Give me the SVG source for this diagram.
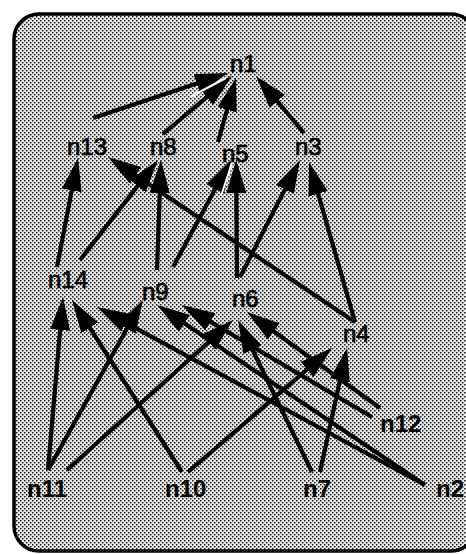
<svg xmlns="http://www.w3.org/2000/svg" width="466" height="554" viewBox="0 0 466 554">
<defs>
<pattern id="dither" width="4" height="4" patternUnits="userSpaceOnUse">
<rect width="4" height="4" fill="#e8e8e8"/>
<rect x="0" y="0" width="1.5" height="1.5" fill="#202020"/>
<rect x="2" y="2" width="1.5" height="1.5" fill="#202020"/>
</pattern>
<marker id="ah" markerUnits="userSpaceOnUse" markerWidth="36" markerHeight="22" refX="23" refY="10" orient="auto">
<path d="M0,0 L33,10 L0,20 z" fill="#000"/>
</marker>
</defs>
<style>
.e{stroke:#000;stroke-width:4.2;fill:none;marker-end:url(#ah)}
.h{stroke:#fff;stroke-width:2}
.t{font-family:"Liberation Sans",Arial,sans-serif;font-size:24px;fill:#000;stroke:#000;stroke-width:0.7}
.b{font-family:"Liberation Sans",Arial,sans-serif;font-size:24px;font-weight:bold;fill:#000}
</style>
<rect x="0" y="0" width="466" height="554" fill="#fff"/>
<rect id="frame" x="14" y="14" width="462" height="537" rx="25" fill="url(#dither)" stroke="#000" stroke-width="3.5"/>
<g id="edges">
<line class="e" x1="93" y1="118" x2="218.5" y2="76.2"/>
<line class="e" x1="163" y1="134" x2="224.3" y2="82.4"/>
<line class="e" x1="218" y1="142" x2="233.3" y2="87.6"/>
<line class="e" x1="304" y1="133" x2="262.4" y2="83.7"/>
<line class="e" x1="57" y1="267" x2="76.1" y2="167.8"/>
<line class="e" x1="80" y1="260" x2="151.8" y2="167.9"/>
<line class="e" x1="157" y1="270" x2="160.6" y2="170"/>
<line class="e" x1="355" y1="322" x2="116.3" y2="162.6"/>
<line class="e" x1="173" y1="267" x2="226.2" y2="168.8"/>
<line class="e" x1="237" y1="278" x2="236.2" y2="170"/>
<line class="e" x1="240" y1="277" x2="295.4" y2="168.9"/>
<line class="e" x1="355" y1="322" x2="311.8" y2="171.6"/>
<line class="e" x1="48" y1="470" x2="62.1" y2="307"/>
<line class="e" x1="182" y1="472" x2="77.4" y2="308.4"/>
<line class="e" x1="48" y1="470" x2="138.1" y2="308.7"/>
<line class="e" x1="67" y1="470" x2="225.6" y2="326.7"/>
<line class="e" x1="188" y1="472" x2="324.4" y2="354.5"/>
<line class="e" x1="312" y1="472" x2="242.4" y2="329"/>
<line class="e" x1="320" y1="472" x2="344.9" y2="357.8"/>
<line class="e" x1="380" y1="408" x2="255.1" y2="317.9"/>
<line class="e" x1="372" y1="417" x2="190.6" y2="310.1"/>
<line class="e" x1="425" y1="485" x2="105.8" y2="311.8"/>
<line class="e" x1="425" y1="485" x2="165.3" y2="310.6"/>
<line class="h" x1="190" y1="97" x2="226" y2="78"/>
<line class="h" x1="221" y1="196" x2="232" y2="163"/>
</g>
<g id="n1"><text class="t" x="230" y="72">n1</text></g>
<g id="n13"><text class="t" x="67" y="155">n13</text></g>
<g id="n8"><text class="t" x="150" y="155">n8</text></g>
<g id="n5"><text class="t" x="222" y="162">n5</text></g>
<g id="n3"><text class="t" x="295" y="155">n3</text></g>
<g id="n14"><text class="t" x="48" y="288">n14</text></g>
<g id="n9"><text class="t" x="142" y="300">n9</text></g>
<g id="n6"><text class="t" x="232" y="307">n6</text></g>
<g id="n4"><text class="t" x="343" y="342">n4</text></g>
<g id="n12"><text class="b" x="380" y="432">n12</text></g>
<g id="n11"><text class="b" x="27" y="497">n11</text></g>
<g id="n10"><text class="b" x="165" y="497">n10</text></g>
<g id="n7"><text class="b" x="303" y="497">n7</text></g>
<g id="n2"><text class="b" x="436" y="497">n2</text></g>
</svg>
